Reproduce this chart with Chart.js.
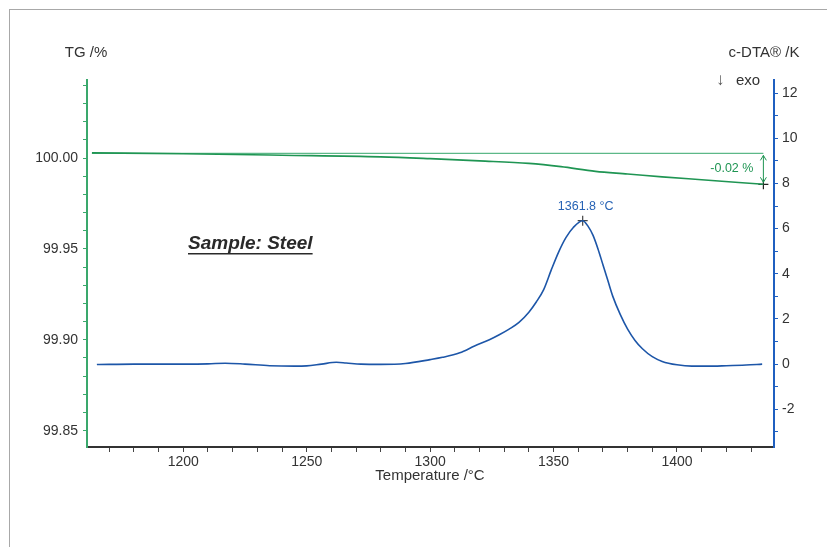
<!DOCTYPE html>
<html>
<head>
<meta charset="utf-8">
<script src="https://cdn.jsdelivr.net/npm/chart.js@4.4.0/dist/chart.umd.min.js"></script>
<style>
  html, body { margin: 0; padding: 0; background: #fff; }
  #wrap { position: relative; width: 827px; height: 547px; }
  #frame { position: absolute; left: 9px; top: 9px; right: -2px; bottom: -2px;
           border-left: 1px solid #a8a8a8; border-top: 1px solid #a8a8a8; }
  canvas { position: absolute; left: 0; top: 0; }
</style>
</head>
<body>
<div id="wrap">
  <div id="frame"></div>
  <canvas id="chart" width="827" height="547"></canvas>
</div>
<script>
// DATA
const dtaTemps = [1165, 1180, 1200, 1210, 1217, 1225, 1235, 1245, 1250, 1256, 1262, 1266, 1272, 1280, 1290,
  1300, 1305, 1312, 1318, 1324, 1328, 1332, 1336, 1340, 1343, 1346, 1349, 1352, 1355, 1358, 1361.8,
  1364, 1366, 1368, 1370, 1372, 1374, 1377, 1380, 1383, 1386, 1390, 1394, 1400, 1406, 1412, 1420, 1428, 1434.5];
const dtaValues = [-0.02, 0.0, 0.0, 0.01, 0.04, 0.0, -0.07, -0.09, -0.08, 0.0, 0.08, 0.05, 0.0, -0.01, 0.03,
  0.2, 0.3, 0.5, 0.8, 1.08, 1.3, 1.55, 1.85, 2.3, 2.75, 3.3, 4.15, 4.95, 5.6, 6.05, 6.35,
  6.1, 5.7, 5.1, 4.4, 3.7, 3.0, 2.2, 1.55, 1.05, 0.68, 0.33, 0.12, -0.03, -0.09, -0.09, -0.07, -0.04, 0.0];

const tgTemps = [1163, 1200, 1240, 1280, 1300, 1320, 1340, 1353, 1367, 1380, 1394, 1410, 1425, 1435];
const tgValues = [100.0029, 100.0024, 100.0016, 100.0007, 99.9997, 99.9985, 99.9971, 99.9953, 99.9927,
  99.9913, 99.9897, 99.9881, 99.9866, 99.9856];

const tgStartValue = 100.0026;   // reference level for mass change step
const massChangeLabel = '-0.02 %';
const peakTemp = 1361.8;
const peakValue = 6.35;
const peakLabel = '1361.8 °C';

const xMin = 1161, xMax = 1439.3;
const xMajor = [1200, 1250, 1300, 1350, 1400];
const tgMin = 99.841, tgMax = 100.043;
const tgMajor = [99.85, 99.90, 99.95, 100.00];
const dtaMin = -3.67, dtaMax = 12.58;
const dtaMajor = [-2, 0, 2, 4, 6, 8, 10, 12];

const GREEN = '#1f9553';
const GREEN_AXIS = '#3aa86c';
const BLUE = '#1d56a8';
const BLUE_AXIS = '#1f5fc0';
const TEXT = '#333333';
const FONT = 'Arial, "Liberation Sans", sans-serif';

function range(a, b, step) {
  const out = [];
  for (let v = a; v <= b + 1e-9; v += step) out.push(Math.round(v * 1e4) / 1e4);
  return out;
}
const xMinor = range(1170, 1430, 10);
const tgMinor = range(99.85, 100.04, 0.01);
const dtaMinor = range(-3, 12, 1);

function isMajor(list, v) {
  return list.some(m => Math.abs(m - v) < 1e-6);
}

// EXTRA TEXT + MARKS
const decorPlugin = {
  id: 'decor',
  afterDatasetsDraw(chart) {
    const { ctx, scales } = chart;
    const x = scales.x, yl = scales.yTG;
    ctx.save();
    ctx.textBaseline = 'middle';

    ctx.fillStyle = TEXT;
    ctx.font = '15px ' + FONT;
    ctx.textAlign = 'center';
    ctx.fillText('TG /%', 86, 53);
    ctx.fillText('c-DTA® /K', 764, 53);
    ctx.fillText('Temperature /°C', 430, 476);

    ctx.textAlign = 'left';
    ctx.fillText('exo', 736, 81);
    ctx.fillStyle = '#555';
    ctx.font = '17px ' + FONT;
    ctx.fillText('↓', 716, 80);

    // sample label
    ctx.fillStyle = '#2a2a2a';
    ctx.font = 'italic bold 19px ' + FONT;
    ctx.textAlign = 'left';
    ctx.fillText('Sample: Steel', 188, 244);
    const w = ctx.measureText('Sample: Steel').width;
    ctx.fillRect(188, 253, w, 1.5);

    // peak label
    ctx.fillStyle = '#2763b5';
    ctx.font = '12.5px ' + FONT;
    ctx.textAlign = 'center';
    ctx.fillText(peakLabel, x.getPixelForValue(peakTemp) + 3, 207);

    // mass change arrow
    const lastT = tgTemps[tgTemps.length - 1];
    const ax = x.getPixelForValue(lastT);
    const y1 = yl.getPixelForValue(tgStartValue);
    const y2 = yl.getPixelForValue(tgValues[tgValues.length - 1]);
    ctx.strokeStyle = GREEN;
    ctx.lineWidth = 1;
    ctx.beginPath();
    ctx.moveTo(ax, y1 + 2); ctx.lineTo(ax, y2 - 2);
    ctx.moveTo(ax - 3, y1 + 7); ctx.lineTo(ax, y1 + 2); ctx.lineTo(ax + 3, y1 + 7);
    ctx.moveTo(ax - 3, y2 - 7); ctx.lineTo(ax, y2 - 2); ctx.lineTo(ax + 3, y2 - 7);
    ctx.stroke();
    ctx.fillStyle = GREEN;
    ctx.textAlign = 'right';
    ctx.font = '12.5px ' + FONT;
    ctx.fillText(massChangeLabel, ax - 10, (y1 + y2) / 2);
    ctx.restore();
  }
};

const ctx = document.getElementById('chart').getContext('2d');
new Chart(ctx, {
  type: 'line',
  data: {
    datasets: [
      {
        label: 'DTA',
        data: dtaTemps.map((t, i) => ({ x: t, y: dtaValues[i] })),
        yAxisID: 'yDTA',
        borderColor: BLUE,
        borderWidth: 1.6,
        pointRadius: 0,
        cubicInterpolationMode: 'monotone'
      },
      {
        label: 'TG',
        data: tgTemps.map((t, i) => ({ x: t, y: tgValues[i] })),
        yAxisID: 'yTG',
        borderColor: GREEN,
        borderWidth: 1.6,
        pointRadius: 0,
        cubicInterpolationMode: 'monotone'
      },
      {
        label: 'TG ref',
        data: [{ x: tgTemps[0], y: tgStartValue }, { x: tgTemps[tgTemps.length - 1], y: tgStartValue }],
        yAxisID: 'yTG',
        borderColor: '#5cb888',
        borderWidth: 1.2,
        pointRadius: 0
      },
      {
        label: 'peak mark',
        type: 'scatter',
        data: [{ x: peakTemp, y: peakValue }],
        yAxisID: 'yDTA',
        pointStyle: 'cross',
        pointRadius: 5,
        borderColor: '#444',
        borderWidth: 1.2
      },
      {
        label: 'tg mark',
        type: 'scatter',
        data: [{ x: tgTemps[tgTemps.length - 1], y: tgValues[tgValues.length - 1] }],
        yAxisID: 'yTG',
        pointStyle: 'cross',
        pointRadius: 5,
        borderColor: '#222',
        borderWidth: 1.2
      }
    ]
  },
  options: {
    responsive: false,
    animation: false,
    layout: { padding: { top: 80, left: 0, right: 0, bottom: 0 } },
    plugins: { legend: { display: false }, tooltip: { enabled: false } },
    scales: {
      x: {
        type: 'linear',
        min: xMin, max: xMax,
        afterBuildTicks: s => { s.ticks = xMinor.map(v => ({ value: v })); },
        afterFit: s => { s.height = 100; },
        border: { color: '#333', width: 2 },
        grid: { drawOnChartArea: false, drawTicks: true, tickLength: 5, color: '#444' },
        ticks: {
          autoSkip: false, maxRotation: 0, padding: 2,
          color: TEXT, font: { family: FONT, size: 14 },
          callback: v => isMajor(xMajor, v) ? String(v) : ''
        }
      },
      yTG: {
        type: 'linear',
        position: 'left',
        min: tgMin, max: tgMax,
        afterBuildTicks: s => { s.ticks = tgMinor.map(v => ({ value: v })); },
        afterFit: s => { s.width = 87; },
        border: { color: GREEN_AXIS, width: 2 },
        grid: { drawOnChartArea: false, drawTicks: true, tickLength: 4, color: GREEN_AXIS },
        ticks: {
          autoSkip: false, padding: 5,
          color: TEXT, font: { family: FONT, size: 14 },
          callback: v => isMajor(tgMajor, v) ? v.toFixed(2) : ''
        }
      },
      yDTA: {
        type: 'linear',
        position: 'right',
        min: dtaMin, max: dtaMax,
        afterBuildTicks: s => { s.ticks = dtaMinor.map(v => ({ value: v })); },
        afterFit: s => { s.width = 53; },
        border: { color: BLUE_AXIS, width: 2 },
        grid: { drawOnChartArea: false, drawTicks: true, tickLength: 4, color: BLUE_AXIS },
        ticks: {
          autoSkip: false, padding: 4,
          color: TEXT, font: { family: FONT, size: 14 },
          callback: v => isMajor(dtaMajor, v) ? String(v) : ''
        }
      }
    }
  },
  plugins: [decorPlugin]
});
</script>
</body>
</html>
